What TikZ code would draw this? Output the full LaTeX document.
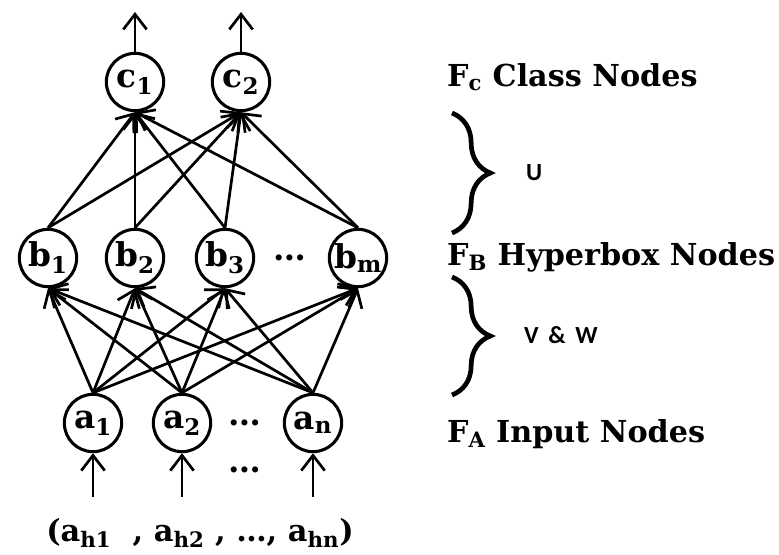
\documentclass[tikz,border=0pt]{standalone}
\usepackage{fontspec}
\setmainfont{DejaVu Serif}
\newfontfamily\wfont{Carlito}
\usetikzlibrary{arrows.meta,decorations.pathreplacing}
\tikzset{
  unit/.style={circle,draw,line width=2.6pt,minimum size=1.72cm,inner sep=0pt,
    font=\fontsize{28}{28}\selectfont\bfseries},
  wire/.style={line width=2.3pt,-{Straight Barb[length=13pt,width=20pt,line width=2.3pt]}},
  layer/.style={anchor=base west,inner sep=0pt,font=\fontsize{25.8}{26}\selectfont\bfseries},
  wlabel/.style={anchor=west,inner sep=0pt,font=\wfont\fontsize{21}{22}\selectfont\bfseries},
  bigbrace/.style={decorate,decoration={brace,amplitude=1.15cm},line width=4pt}
}
\begin{document}
\begin{tikzpicture}[x=0.03cm,y=-0.03cm]
  \useasboundingbox (0,0) rectangle (779,554);
  %% class nodes F_C
  \node[unit] (c1) at (135,82) {c\textsubscript{1}};
  \node[unit] (c2) at (241,82) {c\textsubscript{2}};
  \coordinate (o1) at (135,12);
  \coordinate (o2) at (241,12);
  \draw[wire] (c1.north) -- (o1);
  \draw[wire] (c2.north) -- (o2);
  %% hyperbox nodes F_B
  \node[unit] (b1) at (48,258) {b\textsubscript{1}};
  \node[unit] (b2) at (135,258) {b\textsubscript{2}};
  \node[unit] (b3) at (225,258) {b\textsubscript{3}};
  \node[unit] (bm) at (358,258) {b\textsubscript{m}};
  \node[font=\fontsize{28}{28}\selectfont\bfseries] (bdots) at (290,258) {\dots};
  %% input nodes F_A
  \node[unit] (a1) at (93,423) {a\textsubscript{1}};
  \node[unit] (a2) at (182,423) {a\textsubscript{2}};
  \node[unit] (an) at (313,423) {a\textsubscript{n}};
  \node[font=\fontsize{28}{28}\selectfont\bfseries] (adots) at (245,423) {\dots};
  \node[font=\fontsize{28}{28}\selectfont\bfseries] (idots) at (245,470) {\dots};
  %% connections U
  \foreach \b in {b1,b2,b3,bm}
    \foreach \c in {c1,c2}
      \draw[wire] (\b.north) -- (\c.south);
  %% connections V & W
  \foreach \a in {a1,a2,an}
    \foreach \b in {b1,b2,b3,bm}
      \draw[wire] (\a.north) -- (\b.south);
  %% input vector
  \coordinate (i1) at (93,497);
  \coordinate (i2) at (182,497);
  \coordinate (in) at (313,497);
  \draw[wire] (i1) -- (a1.south);
  \draw[wire] (i2) -- (a2.south);
  \draw[wire] (in) -- (an.south);
  \node[font=\fontsize{26}{26}\selectfont\bfseries] (vec) at (200,533)
    {(a\textsubscript{h1}\ \ , a\textsubscript{h2} , \dots , a\textsubscript{hn})};
  %% layer labels
  \node[layer] (fc) at (447,86) {F\textsubscript{c} Class Nodes};
  \node[layer] (fb) at (447,265) {F\textsubscript{B} Hyperbox Nodes};
  \node[layer] (fa) at (447,442) {F\textsubscript{A} Input Nodes};
  %% braces
  \draw[bigbrace] (452,113) -- (452,233);
  \node[wlabel] (u) at (526,173) {U};
  \draw[bigbrace] (452,277) -- (452,395);
  \node[wlabel] (vw) at (524,335) {V \,\&\, W};
\end{tikzpicture}
\end{document}
